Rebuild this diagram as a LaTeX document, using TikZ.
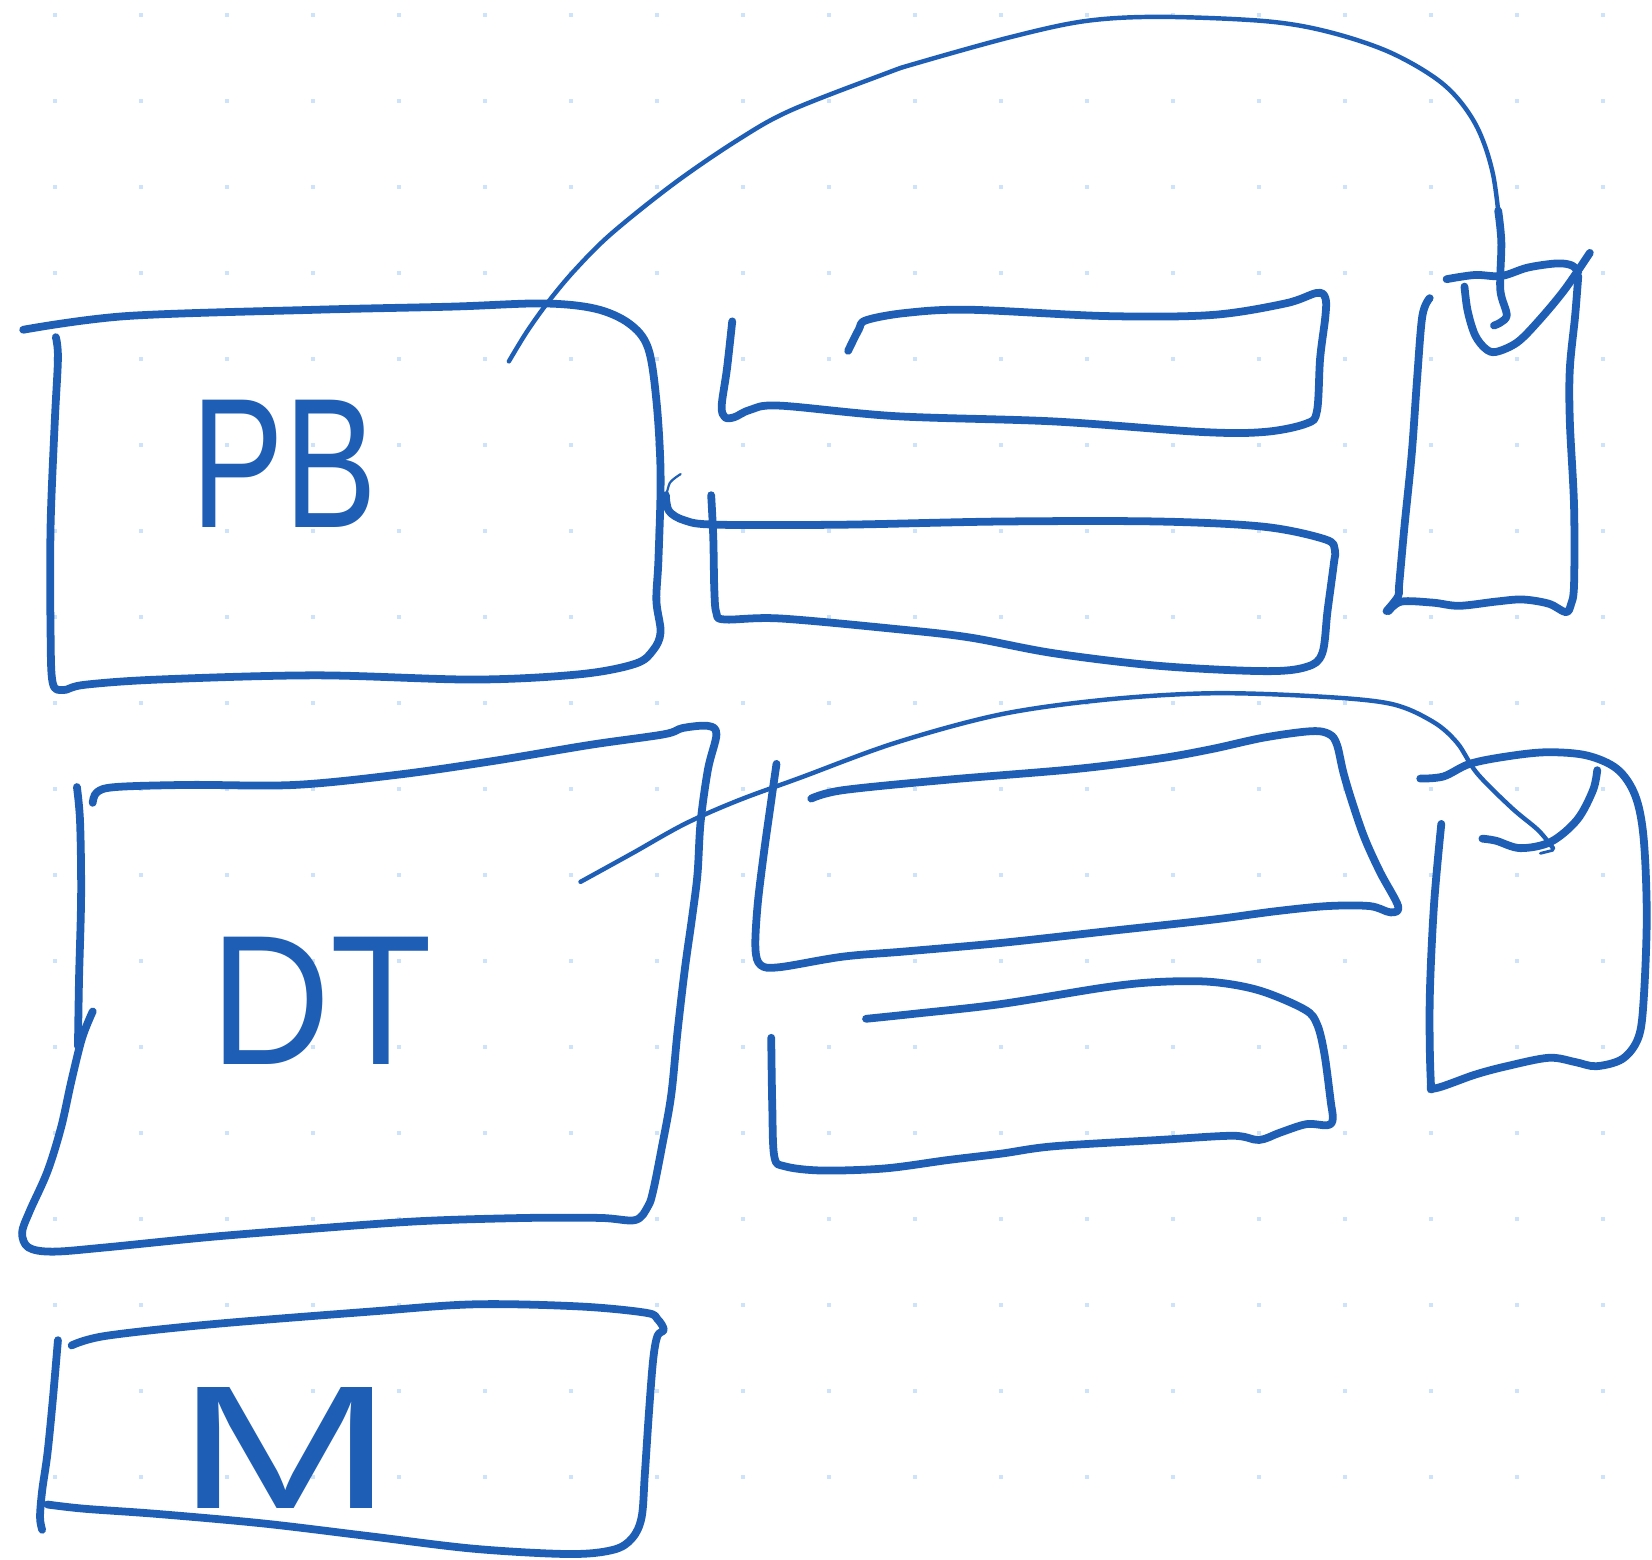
\documentclass[tikz,border=0pt]{standalone}
\usepackage{fontspec}
\setmainfont{Liberation Sans}
\definecolor{inkc}{RGB}{30,94,180}
\definecolor{dotc}{RGB}{205,226,251}
\begin{document}
\begin{tikzpicture}[x=0.02cm,y=-0.02cm,
  pen/.style={draw=inkc,line width=4.2pt,line cap=round,line join=round},
  wire/.style={draw=inkc,line width=2.4pt,line cap=round,line join=round},
  hand/.style={text=inkc,font=\fontsize{100}{100}\selectfont,inner sep=0pt,xscale=0.75}]
\fill[white] (0,0) rectangle (1568,1480);
\useasboundingbox (0,0) rectangle (1568,1480);
\foreach \i in {0,...,18}{\foreach \j in {0,...,17}{
  \fill[dotc] ({52.2+81.62*\i-1.9},{14.2+81.62*\j-1.9}) rectangle ++(3.8,3.8);}}

% PB box
\draw[pen] plot[smooth,tension=0.55] coordinates {(22,313) (120,300) (300,294) (430,291) (515,288) (565,293) (597,307) (615,330) (623,380) (627,450) (625,530) (623,570) (627,600) (620,617) (603,630) (550,640) (450,645) (300,641) (150,645) (80,650) (60,655) (50,648) (48,600) (48,500) (52,400) (55,340) (53,320)};
\node[hand] (pb) at (270,440) {PB};

% bar A
\draw[pen] plot[smooth,tension=0.55] coordinates {(695,305) (690,350) (685,385) (688,396) (697,396) (712,389) (740,385) (850,395) (1000,400) (1140,410) (1200,410) (1240,402) (1250,390) (1253,340) (1258,300) (1258,283) (1250,278) (1220,288) (1150,299) (1050,300) (920,294) (860,297) (822,304) (815,313) (805,333)};

% bar B
\draw[pen] plot[smooth,tension=0.55] coordinates {(675,470) (677,510) (678,560) (680,582) (688,588) (740,587) (850,597) (920,605) (1000,620) (1100,632) (1200,637) (1240,633) (1255,620) (1260,580) (1266,535) (1267,522) (1258,512) (1200,500) (1100,495) (950,495) (800,498) (680,498) (650,494) (635,485) (632,470)};
\draw[wire,line width=1.2pt] plot[smooth] coordinates {(632,472) (636,458) (646,450)};

% small top-right box
\draw[pen] plot[smooth,tension=0.55] coordinates {(1357,283) (1350,300) (1345,360) (1340,430) (1333,500) (1328,555) (1327,566) (1316,580)};
\draw[pen] plot[smooth,tension=0.55] coordinates {(1318,580) (1330,571) (1360,572) (1385,575) (1420,571) (1445,569) (1470,573) (1486,581) (1491,574) (1494,555) (1494,480) (1490,400) (1490,350) (1495,300) (1498,262)};
\draw[pen] plot[smooth,tension=0.55] coordinates {(1373,265) (1400,261) (1425,262) (1450,254) (1478,250) (1492,252) (1498,258)};
\draw[pen] plot[smooth,tension=0.55] coordinates {(1390,272) (1393,295) (1400,318) (1410,331) (1420,334) (1440,325) (1460,305) (1485,275) (1509,240)};

% top connector
\coordinate (c1s) at (483,343);
\coordinate (c1e) at (1418,309);
\draw[wire] plot[smooth,tension=0.55] coordinates {(c1s) (500,315) (520,287) (545,257) (580,222) (640,174) (700,133) (750,105) (840,70) (870,60) (960,35) (1030,20) (1100,16) (1200,20) (1260,30) (1320,50) (1370,80) (1400,117) (1417,165) (1425,230)};
\draw[pen] plot[smooth,tension=0.55] coordinates {(1422,200) (1425,230) (1424,275) (1430,300) (c1e)};

% DT box
\draw[pen] plot[smooth,tension=0.55] coordinates {(73,747) (76,780) (77,850) (75,930) (74,993)};
\draw[pen] plot[smooth,tension=0.55] coordinates {(88,762) (92,752) (110,747) (180,745) (280,745) (380,735) (470,722) (560,707) (630,697) (648,691) (672,689) (680,697) (672,730) (665,780) (662,830) (657,870) (650,920) (643,980) (637,1040) (628,1090) (620,1130) (615,1145) (603,1158) (570,1156) (500,1156) (400,1159) (300,1166) (200,1174) (100,1184) (50,1188) (27,1184) (21,1170) (28,1150) (45,1112) (58,1070) (68,1025) (78,985) (88,960)};
\node[hand,xscale=1.2] (dt) at (305,950) {DT};

% bar C
\draw[pen] plot[smooth,tension=0.55] coordinates {(737,725) (732,760) (725,810) (719,860) (717,900) (722,916) (740,918) (800,908) (860,903) (950,895) (1050,884) (1150,873) (1210,865) (1260,860) (1300,860) (1320,866) (1327,860) (1310,828) (1295,795) (1283,760) (1275,733) (1269,707) (1262,697) (1245,694) (1200,700) (1150,711) (1100,720) (1020,730) (900,740) (800,750) (770,758)};

% bar D
\draw[pen] plot[smooth,tension=0.55] coordinates {(822,967) (870,962) (950,953) (1050,937) (1100,932) (1150,932) (1195,940) (1238,958) (1250,972) (1257,1000) (1263,1045) (1265,1062) (1260,1068) (1240,1067) (1215,1075) (1195,1082) (1170,1078) (1100,1082) (1000,1088) (950,1095) (900,1101) (840,1109) (780,1111) (745,1107) (735,1098) (733,1050) (732,985)};

% lower connector
\coordinate (c2s) at (551,837);
\coordinate (c2e) at (1474,805);
\draw[wire] plot[smooth,tension=0.55] coordinates {(c2s) (600,810) (650,782) (700,760) (760,738) (850,705) (950,678) (1050,664) (1150,658) (1250,661) (1320,668) (1360,685) (1383,705) (1402,734) (1435,767) (1460,788) (c2e)};
\draw[wire,line width=1.5pt] (1462,810) -- (1474,807);

% lower right box
\draw[pen] plot[smooth,tension=0.55] coordinates {(1348,739) (1370,737) (1395,725) (1430,718) (1468,714) (1506,717) (1535,730) (1552,755) (1560,795) (1563,870) (1560,950) (1555,985) (1540,1005) (1515,1012) (1495,1008) (1470,1004) (1430,1012) (1400,1020) (1362,1033) (1358,1025) (1357,950) (1361,860) (1368,782)};
\draw[pen] plot[smooth,tension=0.55] coordinates {(1407,796) (1420,798) (1443,805) (1472,799) (1497,778) (1512,750) (1516,731)};

% M box
\draw[pen] plot[smooth,tension=0.55] coordinates {(68,1277) (100,1268) (200,1257) (350,1245) (450,1238) (550,1240) (613,1246) (624,1252) (630,1262) (624,1268) (620,1290) (616,1340) (612,1400) (609,1440) (600,1460) (582,1471) (540,1475) (450,1470) (350,1458) (250,1446) (150,1437) (80,1432) (45,1428)};
\draw[pen] plot[smooth,tension=0.55] coordinates {(55,1272) (50,1330) (45,1380) (40,1415) (38,1440) (40,1452)};
\node[hand,xscale=1.88,yscale=0.95] (m) at (271,1374) {M};
\end{tikzpicture}
\end{document}
